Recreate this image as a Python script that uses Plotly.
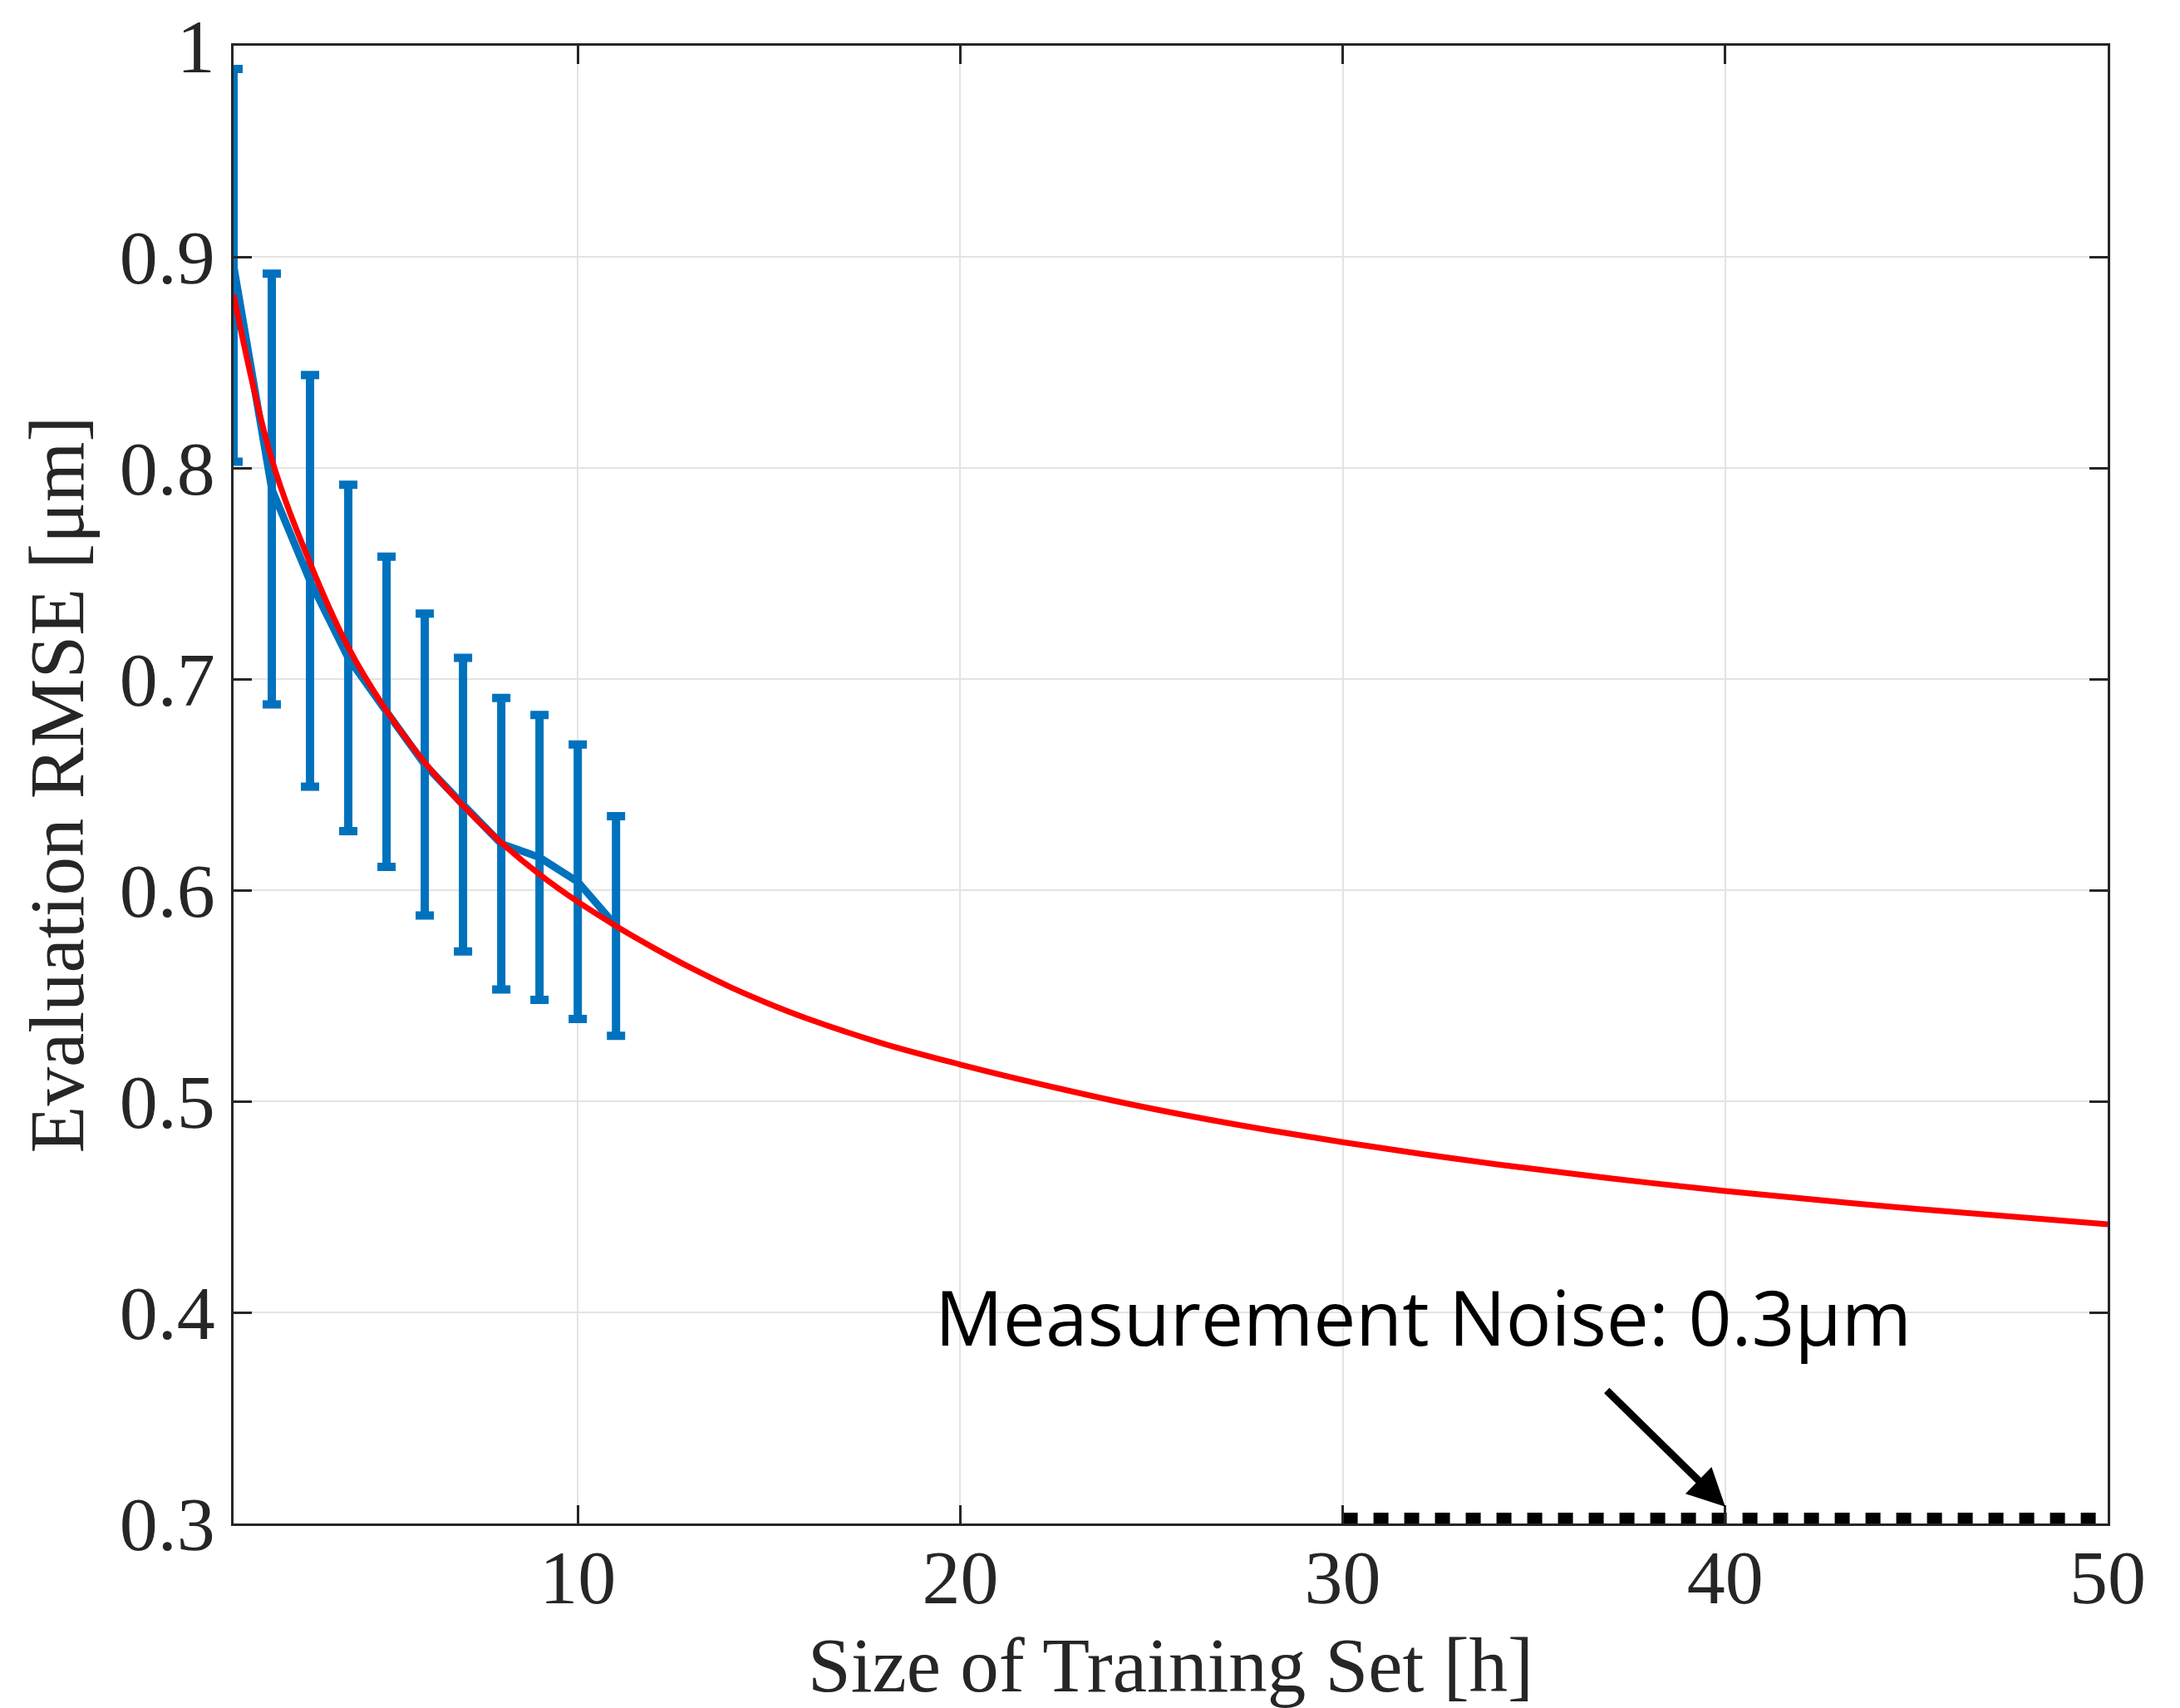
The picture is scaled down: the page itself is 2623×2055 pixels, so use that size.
import plotly.graph_objects as go

# ---- data ----
train_hours = [1, 2, 3, 4, 5, 6, 7, 8, 9, 10, 11]
rmse_mean = [0.896, 0.790, 0.7465, 0.710, 0.6845, 0.6595, 0.6405, 0.622, 0.6155, 0.604, 0.583]
rmse_err = [0.093, 0.102, 0.0975, 0.082, 0.0735, 0.0715, 0.0695, 0.069, 0.0675, 0.065, 0.052]

fit_hours = [1, 2, 3, 4, 5, 6, 7, 8, 9, 10, 11, 12, 13, 14, 15, 16, 18, 20, 22, 24,
             26, 28, 30, 32, 34, 37, 40, 45, 50]
fit_rmse = [0.882, 0.804, 0.755, 0.715, 0.685, 0.6605, 0.640, 0.6225, 0.6075, 0.5945, 0.583,
            0.5725, 0.5628, 0.5540, 0.5462, 0.5392, 0.5272, 0.5174, 0.5085, 0.5003,
            0.4930, 0.4865, 0.4806, 0.4752, 0.4702, 0.4635, 0.4575, 0.4490, 0.4417]

noise_hours = [30, 50]
noise_level = [0.3, 0.3]

x_ticks = [10, 20, 30, 40, 50]
x_ticktext = ["10", "20", "30", "40", "50"]
y_ticks = [0.3, 0.4, 0.5, 0.6, 0.7, 0.8, 0.9, 1.0]
y_ticktext = ["0.3", "0.4", "0.5", "0.6", "0.7", "0.8", "0.9", "1"]

annot_text = "Measurement Noise: 0.3μm"
annot_pos = (32.1, 0.398)
arrow_tail = (36.87, 0.3636)
arrow_tip = (40.0, 0.308)

BLUE = "#0072BD"
RED = "#FF0000"
AX = "#262626"
GRID = "#E3E3E3"
SERIF = "Liberation Serif, Times New Roman, serif"

fig = go.Figure()

fig.add_trace(go.Scatter(
    x=train_hours, y=rmse_mean, mode="lines",
    line=dict(color=BLUE, width=9),
    error_y=dict(type="data", array=rmse_err, visible=True,
                 color=BLUE, thickness=10, width=11),
    showlegend=False, cliponaxis=False,
))

fig.add_trace(go.Scatter(
    x=fit_hours, y=fit_rmse, mode="lines",
    line=dict(color=RED, width=7, shape="spline", smoothing=1.0),
    showlegend=False,
))

fig.add_trace(go.Scatter(
    x=noise_hours, y=noise_level, mode="lines",
    line=dict(color="black", width=26, dash="18px,19px"),
    showlegend=False, cliponaxis=False,
))

fig.add_annotation(
    x=annot_pos[0], y=annot_pos[1], xref="x", yref="y",
    text=annot_text, showarrow=False,
    font=dict(family="Open Sans", size=91, color="black"),
    xanchor="center", yanchor="middle",
)

fig.add_annotation(
    x=arrow_tip[0], y=arrow_tip[1], xref="x", yref="y",
    ax=arrow_tail[0], ay=arrow_tail[1], axref="x", ayref="y",
    text="", showarrow=True, arrowhead=2, arrowsize=1.0,
    arrowwidth=9, arrowcolor="black",
)

axis_common = dict(
    showline=True, linecolor=AX, linewidth=2.5, mirror="ticks",
    ticks="inside", ticklen=22, tickwidth=2.5, tickcolor=AX,
    showgrid=True, gridcolor=GRID, gridwidth=2,
    zeroline=False,
    ticklabeloverflow="allow",
    tickfont=dict(family=SERIF, size=92, color=AX),
)

fig.update_xaxes(
    range=[1, 50], tickmode="array", tickvals=x_ticks, ticktext=x_ticktext,
    title=dict(text="Size of Training Set [h]", font=dict(family=SERIF, size=93, color=AX),
               standoff=41),
    ticklabelstandoff=-17,
    **axis_common,
)
fig.update_yaxes(
    range=[0.3, 1.0], tickmode="array", tickvals=y_ticks, ticktext=y_ticktext,
    title=dict(text="Evaluation RMSE [μm]", font=dict(family=SERIF, size=93, color=AX),
               standoff=13),
    ticklabelstandoff=1,
    **axis_common,
)

fig.update_layout(
    width=2615, height=2047,
    margin=dict(l=273, r=87, t=47, b=222, autoexpand=False),
    plot_bgcolor="white", paper_bgcolor="white",
)

fig.write_html("out.html")
